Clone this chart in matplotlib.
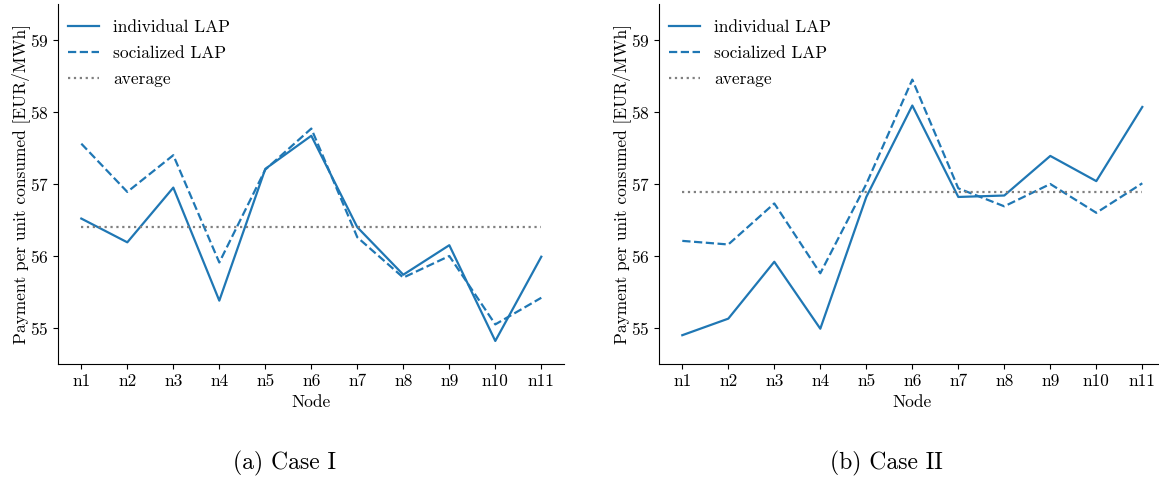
import numpy as np
import matplotlib
matplotlib.use("Agg")
import matplotlib.pyplot as plt

plt.rcParams['font.family'] = 'serif'
plt.rcParams['font.serif'] = ['cmr10']
plt.rcParams['mathtext.fontset'] = 'cm'
plt.rcParams['axes.formatter.use_mathtext'] = True
plt.rcParams['font.size'] = 12.5

nodes = ['n1', 'n2', 'n3', 'n4', 'n5', 'n6', 'n7', 'n8', 'n9', 'n10', 'n11']

# case I
ind_1 = [56.52, 56.19, 56.95, 55.38, 57.21, 57.67, 56.40, 55.74, 56.15, 54.82, 55.99]
soc_1 = [57.56, 56.89, 57.40, 55.91, 57.20, 57.77, 56.26, 55.70, 56.00, 55.05, 55.42]
avg_1 = 56.40

# case II
ind_2 = [54.90, 55.13, 55.92, 54.99, 56.82, 58.09, 56.82, 56.84, 57.39, 57.04, 58.07]
soc_2 = [56.21, 56.16, 56.73, 55.76, 57.00, 58.45, 56.94, 56.69, 57.00, 56.60, 57.01]
avg_2 = 56.89

captions = ['(a) Case I', '(b) Case II']

blue = '#1f77b4'
W, H = 1159, 478
fig = plt.figure(figsize=(W / 100, H / 100), dpi=100)

lefts = [58.3, 659.3]
cap_x = [284.7, 886.7]
cases = [(ind_1, soc_1, avg_1), (ind_2, soc_2, avg_2)]

for k in range(2):
    ind, soc, avg = cases[k]
    ax = fig.add_axes([lefts[k] / W, 114 / H, 506 / W, 360 / H])
    x = np.arange(len(nodes))
    ax.plot(x, ind, color=blue, lw=1.6, label='individual LAP')
    ax.plot(x, soc, color=blue, lw=1.6, ls='--', label='socialized LAP')
    ax.plot(x, [avg] * len(nodes), color='gray', lw=1.6, ls=':', label='average')
    ax.set_xlim(-0.5, 10.5)
    ax.set_ylim(54.5, 59.5)
    ax.set_yticks([55, 56, 57, 58, 59])
    ax.set_xticks(x)
    ax.set_xticklabels(nodes)
    ax.spines['top'].set_visible(False)
    ax.spines['right'].set_visible(False)
    ax.set_xlabel('Node', labelpad=4)
    ax.set_ylabel('Payment per unit consumed [EUR/MWh]', labelpad=0)
    ax.legend(loc='upper left', bbox_to_anchor=(-0.012, 1.0), frameon=False,
              labelspacing=0.63, handlelength=1.8)
    fig.text(cap_x[k] / W, 1 - 463 / H, captions[k], ha='center', va='center', fontsize=17)

fig.savefig('out.png', dpi=100)
